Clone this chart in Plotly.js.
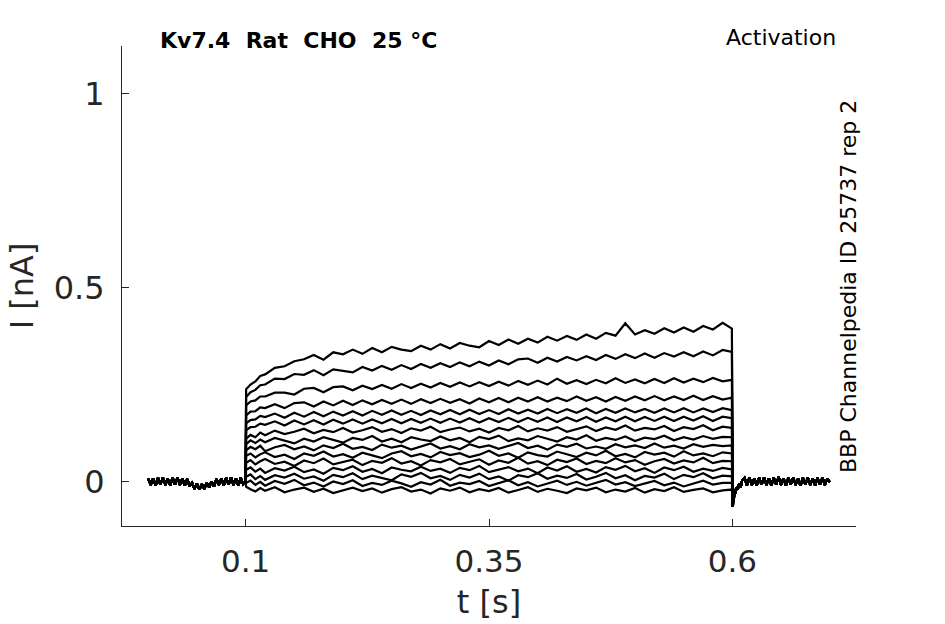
<!DOCTYPE html>
<html>
<head>
<meta charset="utf-8">
<script src="https://cdn.plot.ly/plotly-3.0.1.min.js"></script>
<style>
  html, body { margin: 0; padding: 0; background: #ffffff; }
  #chart { width: 945px; height: 624px; }
</style>
</head>
<body>
<div id="chart"></div>
<script>
// ---------- DATA (time in s, current in nA) ----------
const xTickVals = [0.1, 0.35, 0.6];
const xTickText = ['0.1', '0.35', '0.6'];
const yTickVals = [0, 0.5, 1];
const yTickText = ['0', '0.5', '1'];

// holding period before the step (shared by all sweeps)
const tPre = [0, 0.0025, 0.005, 0.0075, 0.01, 0.0125, 0.015, 0.0175, 0.02, 0.0225,
  0.025, 0.0275, 0.03, 0.0325, 0.035, 0.0375, 0.04, 0.0425, 0.045, 0.0475,
  0.05, 0.0525, 0.055, 0.0575, 0.06, 0.0625, 0.065, 0.0675, 0.07, 0.0725,
  0.075, 0.0775, 0.08, 0.0825, 0.085, 0.0875, 0.09, 0.0925, 0.095, 0.0975, 0.1];
const iPre = [0.007, -0.009, 0.008, -0.011, 0.009, -0.008, 0.010, -0.009, 0.007, -0.010,
  0.009, -0.008, 0.010, -0.009, 0.008, -0.011, 0.006, -0.012, -0.004, -0.019,
  -0.006, -0.021, -0.007, -0.019, -0.004, -0.015, 0.000, -0.013, 0.006, -0.009,
  0.008, -0.010, 0.009, -0.008, 0.010, -0.009, 0.008, -0.011, 0.009, -0.007, 0.000];

// test step period (shared time grid)
const tStep = [0.1005, 0.105, 0.11, 0.115,
  0.12, 0.13, 0.14, 0.15, 0.16, 0.17, 0.18, 0.19,
  0.20, 0.21, 0.22, 0.23, 0.24, 0.25, 0.26, 0.27,
  0.28, 0.29, 0.30, 0.31, 0.32, 0.33, 0.34, 0.35,
  0.36, 0.37, 0.38, 0.39, 0.40, 0.41, 0.42, 0.43,
  0.44, 0.45, 0.46, 0.47, 0.48, 0.49, 0.50, 0.51,
  0.52, 0.53, 0.54, 0.55, 0.56, 0.57, 0.58, 0.59,
  0.5995];

// tail after the step (shared by all sweeps)
const tPost = [0.6005, 0.601, 0.6015, 0.602, 0.603, 0.604, 0.6055, 0.607, 0.6085, 0.61,
  0.6125, 0.615, 0.6175, 0.62, 0.6225, 0.625, 0.6275, 0.63, 0.6325, 0.635,
  0.6375, 0.64, 0.6425, 0.645, 0.6475, 0.65, 0.6525, 0.655, 0.6575, 0.66,
  0.6625, 0.665, 0.6675, 0.67, 0.6725, 0.675, 0.6775, 0.68, 0.6825, 0.685,
  0.6875, 0.69, 0.6925, 0.695, 0.6975, 0.7];
const iPost = [-0.066, -0.036, -0.048, -0.026, -0.031, -0.015, -0.021, -0.006, -0.016, 0.002,
  0.009, -0.010, 0.010, -0.009, 0.008, -0.011, 0.009, -0.008, 0.010, -0.009,
  0.008, -0.010, 0.009, -0.008, 0.011, -0.009, 0.008, -0.011, 0.009, -0.008,
  0.010, -0.009, 0.007, -0.011, 0.009, -0.008, 0.010, -0.009, 0.008, -0.010,
  0.009, -0.008, 0.010, -0.009, 0.007, -0.002];

// step currents of the 15 sweeps, top to bottom
const sweep01 = [0.238, 0.250, 0.258, 0.272,
  0.276, 0.293, 0.297, 0.310, 0.315, 0.326, 0.314, 0.333,
  0.328, 0.340, 0.329, 0.344, 0.333, 0.347, 0.340, 0.336,
  0.350, 0.340, 0.354, 0.343, 0.357, 0.350, 0.346, 0.362,
  0.352, 0.366, 0.355, 0.368, 0.358, 0.373, 0.363, 0.375,
  0.365, 0.379, 0.368, 0.383, 0.376, 0.408, 0.379, 0.390,
  0.381, 0.395, 0.384, 0.397, 0.386, 0.401, 0.392, 0.409,
  0.394];
const sweep02 = [0.218, 0.230, 0.236, 0.248,
  0.250, 0.265, 0.264, 0.277, 0.275, 0.287, 0.274, 0.289,
  0.285, 0.281, 0.295, 0.286, 0.298, 0.288, 0.300, 0.290,
  0.303, 0.293, 0.305, 0.295, 0.307, 0.297, 0.309, 0.299,
  0.312, 0.302, 0.315, 0.317, 0.306, 0.319, 0.309, 0.321,
  0.312, 0.323, 0.313, 0.326, 0.316, 0.328, 0.318, 0.330,
  0.319, 0.331, 0.322, 0.333, 0.323, 0.335, 0.325, 0.339,
  0.334];
const sweep03 = [0.196, 0.206, 0.209, 0.219,
  0.219, 0.229, 0.229, 0.224, 0.239, 0.241, 0.230, 0.243,
  0.245, 0.235, 0.247, 0.238, 0.249, 0.239, 0.251, 0.241,
  0.252, 0.242, 0.254, 0.244, 0.255, 0.245, 0.256, 0.246,
  0.257, 0.247, 0.259, 0.249, 0.260, 0.250, 0.265, 0.252,
  0.261, 0.251, 0.262, 0.253, 0.266, 0.254, 0.263, 0.253,
  0.264, 0.254, 0.266, 0.255, 0.265, 0.256, 0.267, 0.258,
  0.262];
const sweep04 = [0.170, 0.180, 0.181, 0.191,
  0.189, 0.199, 0.189, 0.202, 0.204, 0.193, 0.206, 0.196,
  0.208, 0.197, 0.209, 0.199, 0.210, 0.200, 0.211, 0.200,
  0.212, 0.202, 0.213, 0.203, 0.212, 0.201, 0.214, 0.204,
  0.215, 0.204, 0.216, 0.206, 0.217, 0.206, 0.216, 0.207,
  0.219, 0.208, 0.217, 0.206, 0.218, 0.208, 0.219, 0.209,
  0.220, 0.209, 0.219, 0.210, 0.221, 0.210, 0.220, 0.211,
  0.216];
const sweep05 = [0.150, 0.158, 0.160, 0.169,
  0.166, 0.175, 0.164, 0.177, 0.167, 0.179, 0.168, 0.180,
  0.170, 0.181, 0.170, 0.182, 0.172, 0.183, 0.172, 0.182,
  0.171, 0.183, 0.173, 0.184, 0.173, 0.185, 0.174, 0.184,
  0.174, 0.186, 0.175, 0.185, 0.175, 0.187, 0.176, 0.186,
  0.177, 0.188, 0.176, 0.187, 0.177, 0.188, 0.178, 0.187,
  0.177, 0.188, 0.178, 0.189, 0.178, 0.188, 0.179, 0.189,
  0.184];
const sweep06 = [0.132, 0.140, 0.141, 0.149,
  0.146, 0.155, 0.144, 0.157, 0.147, 0.158, 0.147, 0.159,
  0.149, 0.160, 0.149, 0.160, 0.150, 0.161, 0.150, 0.161,
  0.151, 0.162, 0.151, 0.162, 0.152, 0.163, 0.152, 0.163,
  0.153, 0.164, 0.153, 0.164, 0.154, 0.165, 0.153, 0.165,
  0.155, 0.166, 0.154, 0.165, 0.155, 0.167, 0.155, 0.166,
  0.156, 0.167, 0.156, 0.167, 0.157, 0.168, 0.156, 0.167,
  0.163];
const sweep07 = [0.110, 0.120, 0.114, 0.126,
  0.119, 0.131, 0.122, 0.128, 0.136, 0.124, 0.133, 0.127,
  0.138, 0.126, 0.132, 0.140, 0.128, 0.135, 0.125, 0.137,
  0.131, 0.141, 0.127, 0.134, 0.139, 0.129, 0.136, 0.126,
  0.138, 0.132, 0.143, 0.129, 0.137, 0.131, 0.140, 0.128,
  0.136, 0.142, 0.130, 0.139, 0.133, 0.144, 0.131, 0.138,
  0.134, 0.143, 0.130, 0.140, 0.135, 0.145, 0.132, 0.141,
  0.138];
const sweep08 = [0.096, 0.106, 0.099, 0.108,
  0.101, 0.112, 0.104, 0.098, 0.110, 0.103, 0.114, 0.106,
  0.100, 0.112, 0.107, 0.117, 0.103, 0.110, 0.101, 0.114,
  0.108, 0.104, 0.116, 0.106, 0.112, 0.101, 0.115, 0.109,
  0.118, 0.104, 0.111, 0.106, 0.117, 0.110, 0.103, 0.114,
  0.108, 0.119, 0.105, 0.112, 0.107, 0.116, 0.104, 0.113,
  0.109, 0.118, 0.106, 0.114, 0.108, 0.117, 0.110, 0.115,
  0.114];
const sweep09 = [0.080, 0.089, 0.083, 0.092,
  0.078, 0.088, 0.094, 0.083, 0.090, 0.080, 0.093, 0.086,
  0.097, 0.084, 0.089, 0.081, 0.095, 0.087, 0.092, 0.082,
  0.090, 0.098, 0.085, 0.091, 0.083, 0.096, 0.088, 0.093,
  0.084, 0.091, 0.099, 0.086, 0.092, 0.082, 0.095, 0.089,
  0.097, 0.085, 0.090, 0.084, 0.096, 0.088, 0.093, 0.086,
  0.098, 0.087, 0.092, 0.085, 0.096, 0.089, 0.094, 0.091,
  0.093];
const sweep10 = [0.066, 0.072, 0.062, 0.070,
  0.075, 0.063, 0.069, 0.058, 0.072, 0.066, 0.077, 0.064,
  0.070, 0.061, 0.074, 0.067, 0.060, 0.072, 0.078, 0.065,
  0.071, 0.062, 0.076, 0.068, 0.073, 0.063, 0.069, 0.079,
  0.066, 0.072, 0.061, 0.075, 0.068, 0.064, 0.077, 0.070,
  0.063, 0.074, 0.067, 0.079, 0.065, 0.071, 0.062, 0.076,
  0.069, 0.074, 0.064, 0.078, 0.067, 0.072, 0.065, 0.075,
  0.072];
const sweep11 = [0.048, 0.055, 0.044, 0.052,
  0.058, 0.045, 0.051, 0.040, 0.054, 0.047, 0.059, 0.044,
  0.050, 0.056, 0.042, 0.053, 0.048, 0.060, 0.046, 0.052,
  0.041, 0.055, 0.049, 0.058, 0.044, 0.051, 0.057, 0.043,
  0.054, 0.048, 0.061, 0.046, 0.052, 0.042, 0.056, 0.050,
  0.059, 0.045, 0.053, 0.047, 0.060, 0.049, 0.055, 0.043,
  0.052, 0.058, 0.046, 0.054, 0.049, 0.061, 0.047, 0.053,
  0.052];
const sweep12 = [0.030, 0.036, 0.025, 0.033,
  0.022, 0.034, 0.028, 0.038, 0.024, 0.031, 0.020, 0.035,
  0.029, 0.039, 0.025, 0.032, 0.021, 0.036, 0.030, 0.026,
  0.038, 0.027, 0.033, 0.022, 0.035, 0.029, 0.040, 0.024,
  0.031, 0.037, 0.026, 0.033, 0.021, 0.036, 0.028, 0.039,
  0.025, 0.032, 0.023, 0.037, 0.030, 0.040, 0.026, 0.034,
  0.022, 0.036, 0.029, 0.038, 0.025, 0.033, 0.027, 0.035,
  0.031];
const sweep13 = [0.012, 0.018, 0.006, 0.014,
  0.004, 0.016, 0.010, 0.020, 0.007, 0.013, 0.002, 0.017,
  0.011, 0.021, 0.006, 0.015, 0.009, 0.003, 0.018, 0.012,
  0.022, 0.008, 0.014, 0.004, 0.017, 0.010, 0.020, 0.006,
  0.013, 0.002, 0.016, 0.011, 0.021, 0.007, 0.015, 0.009,
  0.019, 0.005, 0.012, 0.022, 0.008, 0.016, 0.003, 0.014,
  0.010, 0.020, 0.006, 0.017, 0.011, 0.021, 0.008, 0.015,
  0.013];
const sweep14 = [-0.004, 0.002, -0.009, -0.001,
  -0.011, 0.001, -0.006, 0.004, -0.010, -0.003, -0.013, 0.000,
  -0.007, 0.003, -0.012, -0.004, -0.009, 0.002, -0.005, -0.014,
  -0.002, -0.008, 0.004, -0.011, -0.003, -0.007, 0.001, -0.012,
  -0.005, 0.003, -0.010, -0.002, -0.013, -0.006, 0.002, -0.009,
  -0.001, -0.011, -0.004, 0.004, -0.008, -0.002, -0.012, -0.005,
  0.001, -0.010, -0.003, -0.013, -0.006, 0.002, -0.008, -0.004,
  -0.004];
const sweep15 = [-0.014, -0.020, -0.026, -0.017,
  -0.024, -0.015, -0.028, -0.021, -0.016, -0.027, -0.019, -0.030,
  -0.022, -0.016, -0.025, -0.018, -0.029, -0.020, -0.015, -0.026,
  -0.021, -0.031, -0.018, -0.024, -0.016, -0.028, -0.020, -0.025,
  -0.017, -0.029, -0.022, -0.015, -0.027, -0.019, -0.024, -0.030,
  -0.018, -0.023, -0.016, -0.028, -0.021, -0.026, -0.017, -0.029,
  -0.020, -0.025, -0.015, -0.027, -0.022, -0.018, -0.028, -0.023,
  -0.021];

const sweeps = [sweep01, sweep02, sweep03, sweep04, sweep05, sweep06, sweep07, sweep08,
  sweep09, sweep10, sweep11, sweep12, sweep13, sweep14, sweep15];

const titleText = 'Kv7.4\u00a0\u00a0Rat\u00a0\u00a0CHO\u00a0\u00a025 \u00b0C';
const protocolText = 'Activation';
const sourceText = 'BBP Channelpedia ID 25737 rep 2';

// ---------- CHART ----------
const font = '"DejaVu Sans", Verdana, sans-serif';
const axisColor = '#262626';

const traces = sweeps.map(function (s) {
  return {
    type: 'scatter',
    mode: 'lines',
    x: tPre.concat(tStep, tPost),
    y: iPre.concat(s, iPost),
    line: { color: '#000000', width: 2.2 },
    hoverinfo: 'skip',
    showlegend: false
  };
});

const layout = {
  width: 945,
  height: 624,
  margin: { l: 122, r: 89, t: 46, b: 98, pad: 0 },
  paper_bgcolor: '#ffffff',
  plot_bgcolor: '#ffffff',
  font: { family: font, color: axisColor },
  showlegend: false,
  xaxis: {
    range: [-0.027, 0.727],
    tickvals: xTickVals,
    ticktext: xTickText,
    ticks: 'inside',
    ticklen: 7,
    tickwidth: 1,
    tickcolor: axisColor,
    showline: true,
    linecolor: axisColor,
    linewidth: 1,
    mirror: false,
    showgrid: false,
    zeroline: false,
    tickfont: { family: font, size: 31, color: axisColor },
    ticklabelstandoff: 8,
    title: { text: 't [s]', font: { family: font, size: 32, color: axisColor }, standoff: 12 }
  },
  yaxis: {
    range: [-0.115, 1.123],
    tickvals: yTickVals,
    ticktext: yTickText,
    ticks: 'inside',
    ticklen: 7,
    tickwidth: 1,
    tickcolor: axisColor,
    showline: true,
    linecolor: axisColor,
    linewidth: 1,
    mirror: false,
    showgrid: false,
    zeroline: false,
    tickfont: { family: font, size: 32, color: axisColor },
    ticklabelstandoff: 10,
    title: { text: 'I [nA]', font: { family: font, size: 32, color: axisColor }, standoff: 10 }
  },
  annotations: [
    {
      xref: 'paper', yref: 'paper', x: 0.049, y: 1.0125,
      xanchor: 'left', yanchor: 'middle', showarrow: false,
      text: '<b>' + titleText + '</b>',
      font: { family: font, size: 22, color: '#000000' }
    },
    {
      xref: 'paper', yref: 'paper', x: 0.9755, y: 1.0167,
      xanchor: 'right', yanchor: 'middle', showarrow: false,
      text: protocolText,
      font: { family: font, size: 22, color: '#000000' }
    },
    {
      xref: 'paper', yref: 'paper', x: 0.9905, y: 0.498,
      xanchor: 'center', yanchor: 'middle', showarrow: false,
      textangle: -90,
      text: sourceText,
      font: { family: font, size: 22, color: '#000000' }
    }
  ]
};

Plotly.newPlot('chart', traces, layout, { displayModeBar: false, staticPlot: true });
</script>
</body>
</html>
